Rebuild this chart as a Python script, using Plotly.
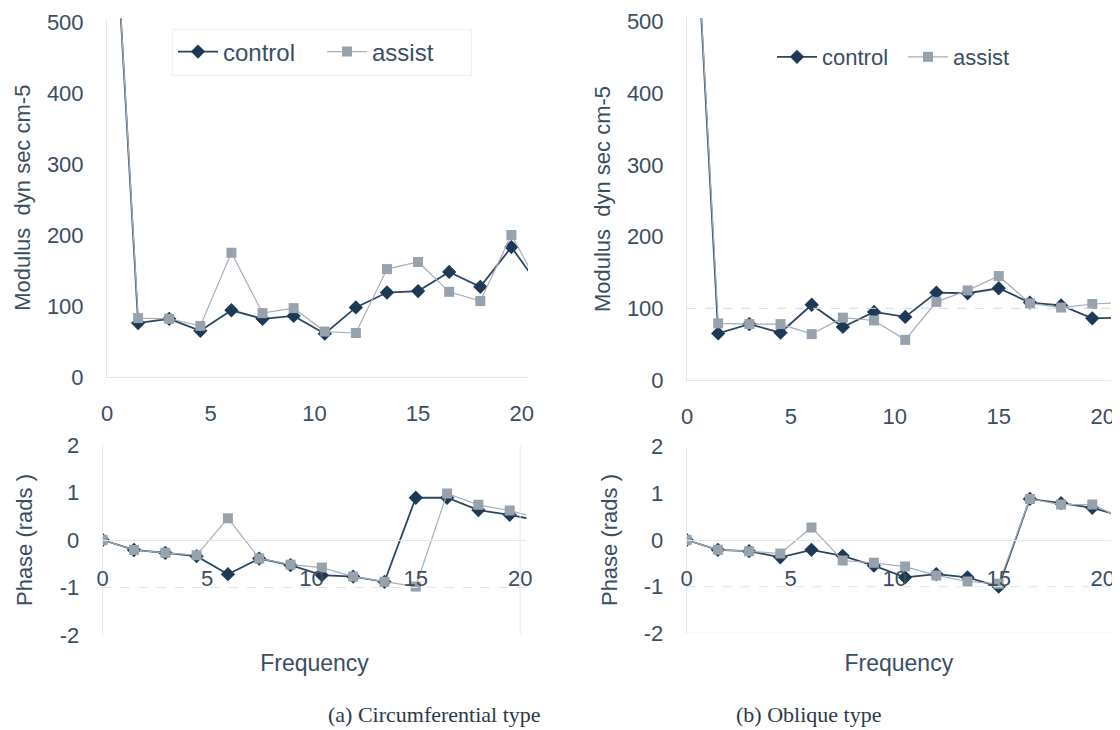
import plotly.graph_objects as go

# ---------------- data ----------------
freq = [0, 1.5, 3, 4.5, 6, 7.5, 9, 10.5, 12, 13.5, 15, 16.5, 18, 19.5, 21]

circ_mod_control = [850, 76, 82, 65, 94, 82, 86, 61, 98, 119, 121, 148, 127, 183, 122]
circ_mod_assist = [850, 83, 82, 72, 175, 90, 97, 64, 62, 152, 162, 120, 107, 200, 120]

obl_mod_control = [880, 65, 78, 66, 105, 74, 95, 88, 122, 121, 128, 108, 104, 86, 87]
obl_mod_assist = [880, 79, 78, 78, 64, 87, 83, 56, 109, 125, 145, 107, 101, 106, 108]

circ_phase_control = [0, -0.21, -0.27, -0.34, -0.72, -0.39, -0.53, -0.74, -0.77, -0.88, 0.89, 0.89, 0.63, 0.53, 0.40]
circ_phase_assist = [0, -0.21, -0.27, -0.32, 0.46, -0.39, -0.52, -0.58, -0.77, -0.88, -0.98, 0.98, 0.74, 0.62, 0.45]

obl_phase_control = [0, -0.21, -0.24, -0.37, -0.21, -0.34, -0.55, -0.80, -0.73, -0.80, -1.00, 0.88, 0.79, 0.69, 0.50]
obl_phase_assist = [0, -0.21, -0.24, -0.29, 0.27, -0.44, -0.49, -0.57, -0.76, -0.89, -0.94, 0.88, 0.76, 0.76, 0.45]

series_names = ["control", "assist"]
mod_ticks = [0, 100, 200, 300, 400, 500]
phase_ticks = [-2, -1, 0, 1, 2]
phase_ticktext = ["-2", "-1", "0", "1", "2"]
freq_ticks = [0, 5, 10, 15, 20]
mod_title = "Modulus\u00a0 dyn sec cm-5"
phase_title = "Phase (rads )"
freq_title = "Frequency"
captions = ["(a) Circumferential type", "(b) Oblique type"]

# ---------------- styles ----------------
OFF = 8                      # page body margin of the html page
W, H = 1120 - OFF, 730 - OFF
SANS = "Liberation Sans, Arial, sans-serif"
SERIF = "Liberation Serif, Times New Roman, serif"
TXT = "#3a4e62"
C_LINE = "#2a4661"
C_MARK = "#1d3956"
A_LINE = "#a6aeb6"
A_MARK = "#98a2ac"
AXL = "#e3e7eb"
CLEAR = "rgba(0,0,0,0)"


def px_x(p):
    return (p - OFF) / W


def px_y(p):
    return 1 - (p - OFF) / H


fig = go.Figure()


def add_pair(xa, ya, yc, yas, legend=None):
    show = legend is not None
    fig.add_trace(go.Scatter(
        x=freq, y=yc, name=series_names[0], mode="lines+markers",
        line=dict(color=C_LINE, width=1.8),
        marker=dict(symbol="diamond", size=11, color=C_MARK),
        xaxis=xa, yaxis=ya, showlegend=show, legend=legend or "legend"))
    fig.add_trace(go.Scatter(
        x=freq, y=yas, name=series_names[1], mode="lines+markers",
        line=dict(color=A_LINE, width=1.2),
        marker=dict(symbol="square", size=10, color=A_MARK),
        xaxis=xa, yaxis=ya, showlegend=show, legend=legend or "legend"))


add_pair("x", "y", circ_mod_control, circ_mod_assist, legend="legend")
add_pair("x2", "y2", obl_mod_control, obl_mod_assist, legend="legend2")
add_pair("x3", "y3", circ_phase_control, circ_phase_assist)
add_pair("x4", "y4", obl_phase_control, obl_phase_assist)

tickfont = dict(family=SANS, size=22, color=TXT)
titlefont = dict(family=SANS, size=22, color=TXT)


def xax(domain, rng, anchor, ticklen, position=None, title=None):
    d = dict(domain=domain, range=rng, tickvals=freq_ticks, ticks="outside",
             ticklen=ticklen, tickcolor=CLEAR, tickfont=tickfont, showgrid=False,
             zeroline=False, showline=True, linecolor=AXL, linewidth=1,
             anchor=anchor, automargin=False)
    if position is not None:
        d["position"] = position
    if title:
        d["title"] = dict(text=title, font=dict(family=SANS, size=23, color=TXT), standoff=64)
    return d


def yax(domain, rng, anchor, ticks, title, standoff, ticktext=None):
    d = dict(domain=domain, range=rng, tickvals=ticks, ticks="outside",
             ticklen=18, tickcolor=CLEAR, tickfont=tickfont, showgrid=False,
             zeroline=False, showline=True, linecolor=AXL, linewidth=1,
             anchor=anchor, automargin=False,
             title=dict(text=title, font=titlefont, standoff=standoff))
    if ticktext is not None:
        d["ticktext"] = ticktext
    return d


# top-left
tl_x = [px_x(107), px_x(528)]
tl_y = [px_y(377), px_y(18.5)]
# top-right
tr_x = [px_x(687), px_x(1111)]
tr_y = [px_y(380), px_y(18)]
# bottom-left
bl_x = [px_x(102.7), px_x(526.4)]
bl_y = [px_y(635), px_y(445)]
# bottom-right
br_x = [px_x(686.7), px_x(1111)]
br_y = [px_y(633.3), px_y(446.7)]

fig.update_layout(
    width=W, height=H,
    margin=dict(l=0, r=0, t=0, b=0, autoexpand=False),
    paper_bgcolor="white", plot_bgcolor="white",
    font=dict(family=SANS, color=TXT),
    xaxis=xax(tl_x, [0, 20.3], "y", 17),
    yaxis=yax(tl_y, [0, 505], "x", mod_ticks, mod_title, 10),
    xaxis2=xax(tr_x, [0, 20.4], "y2", 17),
    yaxis2=yax(tr_y, [0, 505], "x2", mod_ticks, mod_title, 10),
    xaxis3=xax(bl_x, [0, 20.3], "free", 19, position=(bl_y[0] + bl_y[1]) / 2, title=freq_title),
    yaxis3=yax(bl_y, [-2, 2], "x3", phase_ticks, phase_title, 21, phase_ticktext),
    xaxis4=xax(br_x, [0, 20.4], "free", 19, position=(br_y[0] + br_y[1]) / 2, title=freq_title),
    yaxis4=yax(br_y, [-2, 2], "x4", phase_ticks, phase_title, 20, phase_ticktext),
    legend=dict(orientation="h", x=px_x(172), xanchor="left", y=px_y(52), yanchor="middle",
                font=dict(family=SANS, size=24, color=TXT), bgcolor="white",
                bordercolor="#eef0f2", borderwidth=1, entrywidth=94,
                entrywidthmode="pixels", itemwidth=40),
    legend2=dict(orientation="h", x=px_x(772), xanchor="left", y=px_y(57), yanchor="middle",
                 font=dict(family=SANS, size=22, color=TXT), bgcolor="white",
                 bordercolor=CLEAR, borderwidth=0, entrywidth=76,
                 entrywidthmode="pixels", itemwidth=40),
)

# light reference lines
fig.add_shape(type="line", xref="x2 domain", x0=0, x1=1, yref="y2", y0=100, y1=100,
              line=dict(color="#d5dadf", width=1, dash="dash"))
fig.add_shape(type="line", xref="x3 domain", x0=0, x1=1, yref="y3", y0=-1, y1=-1,
              line=dict(color="#e0e4e8", width=1, dash="dash"))
fig.add_shape(type="line", xref="x4 domain", x0=0, x1=1, yref="y4", y0=-1, y1=-1,
              line=dict(color="#e0e4e8", width=1, dash="dash"))
fig.add_shape(type="line", xref="x3", x0=20, x1=20, yref="y3 domain", y0=0, y1=1,
              line=dict(color=AXL, width=1))
fig.add_shape(type="line", xref="x4 domain", x0=0, x1=1, yref="y4", y0=-2, y1=-2,
              line=dict(color=AXL, width=1))

# captions
fig.add_annotation(text=captions[0], xref="paper", yref="paper", x=px_x(326), y=px_y(714),
                   yanchor="middle", showarrow=False,
                   font=dict(family=SERIF, size=22, color="#2c3947"))
fig.add_annotation(text=captions[1], xref="paper", yref="paper", x=px_x(883), y=px_y(714),
                   yanchor="middle", showarrow=False,
                   font=dict(family=SERIF, size=22, color="#2c3947"))

fig.write_html("out.html")
